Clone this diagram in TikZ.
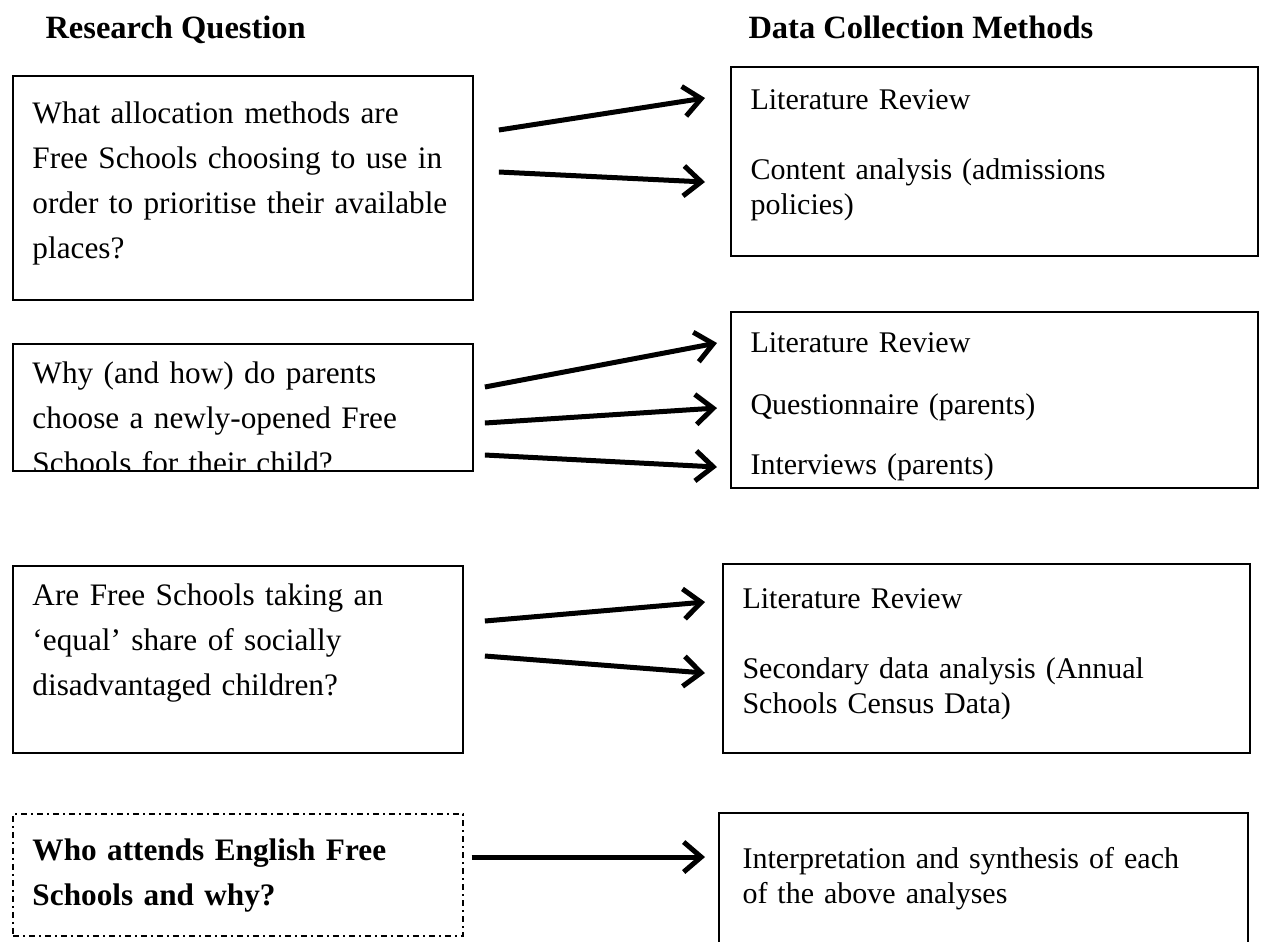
\documentclass[tikz,border=0pt]{standalone}
\usepackage{fontspec}
\setmainfont{Liberation Serif}
\usetikzlibrary{positioning,arrows.meta}
\newlength\px
\setlength\px{0.4pt}
\tikzstyle{qbox}=[rectangle, draw=black, line width=0.75pt, anchor=north west, inner sep=0pt]
\tikzstyle{plan}=[rectangle, draw=black, line width=0.6pt, anchor=north west, inner sep=0pt,
        dash pattern=on 2.4pt off 1.6pt on 0.8pt off 1.6pt]
\tikzstyle{qtext}=[anchor=base west, inner sep=0pt, align=left, text width=440\px,
        font=\fontsize{12.5}{18}\selectfont]
\tikzstyle{mtext}=[anchor=base west, inner sep=0pt, align=left, text width=480\px,
        font=\fontsize{12}{14}\selectfont]
\tikzstyle{heading}=[anchor=base west, inner sep=0pt, font=\fontsize{13}{15}\selectfont\bfseries]
\tikzstyle{link}=[line width=2pt, -{Straight Barb[length=7pt,width=12pt]}]
\begin{document}
\begin{tikzpicture}[x=0.4pt, y=-0.4pt]
        \useasboundingbox (0,0) rectangle (1263,941);
        \node (QHead) [heading] at (45,38) {Research Question};
        \node (MHead) [heading] at (748,38) {Data Collection Methods};

        % first question
        \node (Allocation) [qbox, minimum width=460\px, minimum height=224\px] at (12,75) {};
        \node (AllocationText) [qtext] at ([shift={(20,48)}]Allocation.north west)
        {What allocation methods are\\Free Schools choosing to use in\\order to prioritise their available\\places?};
        \node (AllocMethods) [qbox, minimum width=527\px, minimum height=189\px] at (730,66) {};
        \node (AllocMethodsText) [mtext] at ([shift={(20,43)}]AllocMethods.north west)
        {Literature Review\\[14pt]Content analysis (admissions\\policies)};
        \draw[link] ([shift={(25,55)}]Allocation.north east) -- ([shift={(-25,32)}]AllocMethods.north west);
        \draw[link] ([shift={(25,97)}]Allocation.north east) -- ([shift={(-25,116)}]AllocMethods.north west);

        % second question
        \node (Choice) [qbox, minimum width=460\px, minimum height=127\px] at (12,343) {};
        \begin{scope}
          \clip (Choice.north west) rectangle (Choice.south east);
          \node (ChoiceText) [qtext] at ([shift={(20,40)}]Choice.north west)
          {Why (and how) do parents\\choose a newly-opened Free\\Schools for their child?};
        \end{scope}
        \node (ChoiceMethods) [qbox, minimum width=527\px, minimum height=176\px] at (730,311) {};
        \node (ChoiceMethodsText) [mtext] at ([shift={(20,41)}]ChoiceMethods.north west)
        {Literature Review\\[11pt]Questionnaire (parents)\\[10pt]Interviews (parents)};
        \draw[link] ([shift={(11,44)}]Choice.north east) -- ([shift={(-13,32)}]ChoiceMethods.north west);
        \draw[link] ([shift={(11,80)}]Choice.north east) -- ([shift={(-13,97)}]ChoiceMethods.north west);
        \draw[link] ([shift={(11,112)}]Choice.north east) -- ([shift={(-13,156)}]ChoiceMethods.north west);

        % third question
        \node (Share) [qbox, minimum width=450\px, minimum height=187\px] at (12,565) {};
        \node (ShareText) [qtext] at ([shift={(20,40)}]Share.north west)
        {Are Free Schools taking an\\‘equal’ share of socially\\disadvantaged children?};
        \node (ShareMethods) [qbox, minimum width=527\px, minimum height=189\px] at (722,563) {};
        \node (ShareMethodsText) [mtext] at ([shift={(20,45)}]ShareMethods.north west)
        {Literature Review\\[14pt]Secondary data analysis (Annual\\Schools Census Data)};
        \draw[link] ([shift={(21,56)}]Share.north east) -- ([shift={(-17,39)}]ShareMethods.north west);
        \draw[link] ([shift={(21,91)}]Share.north east) -- ([shift={(-17,110)}]ShareMethods.north west);

        % overall question
        \node (Overall) [plan, minimum width=450\px, minimum height=122\px] at (12,813) {};
        \node (OverallText) [qtext, font=\fontsize{12.5}{18}\selectfont\bfseries] at ([shift={(20,47)}]Overall.north west)
        {Who attends English Free\\Schools and why?};
        \node (Synthesis) [qbox, minimum width=529\px, minimum height=150\px] at (718,812) {};
        \node (SynthesisText) [mtext] at ([shift={(24,56)}]Synthesis.north west)
        {Interpretation and synthesis of each\\of the above analyses};
        \draw[link] ([shift={(8,44)}]Overall.north east) -- ([shift={(-13,45)}]Synthesis.north west);
      \end{tikzpicture}
\end{document}
